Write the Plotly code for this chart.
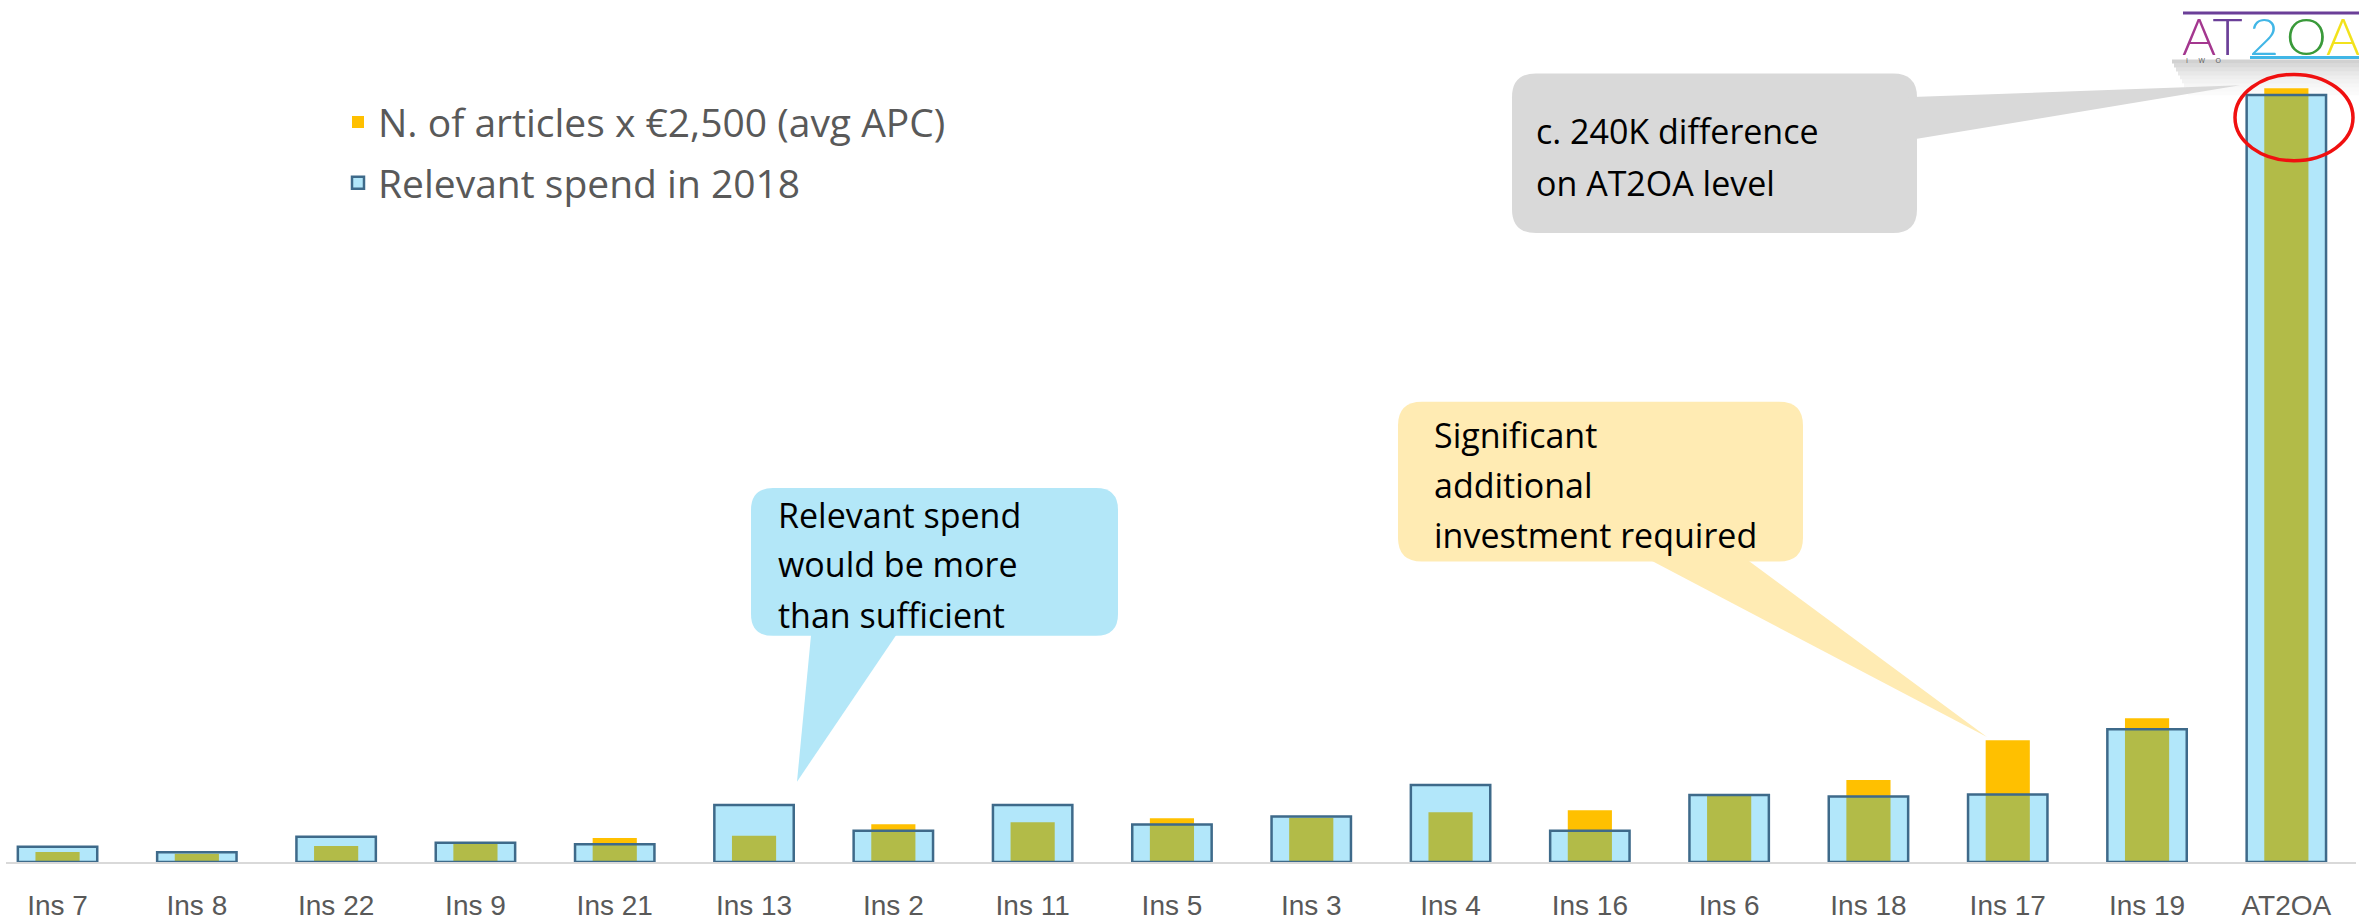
import plotly.graph_objects as go

# Institutions, left to right
categories = ["Ins 7", "Ins 8", "Ins 22", "Ins 9", "Ins 21", "Ins 13", "Ins 2", "Ins 11",
              "Ins 5", "Ins 3", "Ins 4", "Ins 16", "Ins 6", "Ins 18", "Ins 17", "Ins 19", "AT2OA"]

# Number of articles x EUR 2,500 (average APC), in EUR
apc_cost = [360000, 300000, 577500, 660000, 865000, 947500, 1367500, 1440000,
            1585000, 1595000, 1800000, 1872500, 2400000, 2962500, 4402500, 5195000, 27960000]

# Relevant spend in 2018, in EUR
relevant_spend = [551000, 349000, 911000, 695000, 637000, 2063000, 1127000, 2063000,
                  1357000, 1645000, 2783000, 1127000, 2423000, 2365000, 2437000, 4799000, 27720000]

legend_names = ["N. of articles x €2,500 (avg APC)", "Relevant spend in 2018"]

# canvas geometry (pixels)
FIG_W, FIG_H = 2359, 921
M_L, M_R, M_T, M_B = 6, 3, 0, 52
PW = FIG_W - M_L - M_R
PH = FIG_H - M_T - M_B


def to_paper(px, py):
    return (px - M_L) / PW, (M_T + PH - py) / PH


def path_from(points_cmds):
    out = []
    for cmd, pts in points_cmds:
        coords = []
        for (px, py) in pts:
            xp, yp = to_paper(px, py)
            coords.append(f"{xp:.6f},{yp:.6f}")
        out.append(cmd + " ".join(coords))
    return " ".join(out) + " Z"


def rounded_rect(x0, y0, x1, y1, r):
    return path_from([
        ("M", [(x0 + r, y0)]), ("L", [(x1 - r, y0)]), ("Q", [(x1, y0), (x1, y0 + r)]),
        ("L", [(x1, y1 - r)]), ("Q", [(x1, y1), (x1 - r, y1)]),
        ("L", [(x0 + r, y1)]), ("Q", [(x0, y1), (x0, y1 - r)]),
        ("L", [(x0, y0 + r)]), ("Q", [(x0, y0), (x0 + r, y0)]),
    ])


def triangle(p1, p2, p3):
    return path_from([("M", [p1]), ("L", [p2]), ("L", [p3])])


fig = go.Figure()

fig.add_trace(go.Bar(
    x=categories, y=apc_cost, name=legend_names[0], legendgroup="a",
    width=0.317, marker=dict(color="#FFC000", line=dict(width=0)),
))
fig.add_trace(go.Bar(
    x=categories, y=relevant_spend, name=legend_names[1], legendgroup="b",
    width=0.57, marker=dict(color="rgba(0,176,240,0.30)",
                            line=dict(color="#3E6A8A", width=2.5)),
))

shapes = []
annotations = []

# soft shadow under the logo
shadow_steps = [0.40, 0.33, 0.26, 0.20, 0.15, 0.11, 0.08, 0.05, 0.03]
for i, op in enumerate(shadow_steps):
    ya, yb = 60 + i * 4, 64 + i * 4
    xa, _ = to_paper(2172 + i * 2, 0)
    _, ypa = to_paper(0, ya)
    _, ypb = to_paper(0, yb)
    shapes.append(dict(type="rect", xref="paper", yref="paper", x0=xa, x1=1.01,
                       y0=ypb, y1=ypa, fillcolor="#8C8C8C", opacity=op,
                       line=dict(width=0), layer="below"))

# callout: grey
GREY = "#D9D9D9"
shapes.append(dict(type="path", xref="paper", yref="paper",
                   path=rounded_rect(1512, 74, 1917, 235, 24),
                   fillcolor=GREY, line=dict(width=0)))
shapes.append(dict(type="path", xref="paper", yref="paper",
                   path=triangle((1905, 98), (2240, 86), (1905, 142)),
                   fillcolor=GREY, line=dict(width=0)))

# callout: blue
BLUE = "#B3E7F8"
shapes.append(dict(type="path", xref="paper", yref="paper",
                   path=rounded_rect(751, 492, 1118, 641, 22),
                   fillcolor=BLUE, line=dict(width=0)))
shapes.append(dict(type="path", xref="paper", yref="paper",
                   path=triangle((812, 630), (797, 788), (903, 630)),
                   fillcolor=BLUE, line=dict(width=0)))

# callout: yellow
YEL = "#FFEBB3"
shapes.append(dict(type="path", xref="paper", yref="paper",
                   path=rounded_rect(1398, 405, 1803, 566, 24),
                   fillcolor=YEL, line=dict(width=0)))
shapes.append(dict(type="path", xref="paper", yref="paper",
                   path=triangle((1634, 556), (1987, 743), (1736, 556)),
                   fillcolor=YEL, line=dict(width=0)))

# red ring around the AT2OA bar top
ex0, ey1 = to_paper(2235, 75)
ex1, ey0 = to_paper(2353, 162)
shapes.append(dict(type="circle", xref="paper", yref="paper", x0=ex0, x1=ex1, y0=ey0, y1=ey1,
                   line=dict(color="#F01010", width=3.5), fillcolor="rgba(0,0,0,0)"))

# logo rules
lx0, ly = to_paper(2183, 13)
shapes.append(dict(type="line", xref="paper", yref="paper", x0=lx0, x1=1.01, y0=ly, y1=ly,
                   line=dict(color="#6B3F98", width=3)))
lx0, ly = to_paper(2250, 58)
shapes.append(dict(type="line", xref="paper", yref="paper", x0=lx0, x1=1.01, y0=ly, y1=ly,
                   line=dict(color="#41B6E6", width=3)))

FONT = "'Open Sans', Lato, sans-serif"


def text_at(px, py, text, size, color, xanchor="left", family=FONT, weight=None):
    xp, yp = to_paper(px, py)
    font = dict(family=family, size=size, color=color)
    if weight is not None:
        font["weight"] = weight
    annotations.append(dict(x=xp, y=yp, xref="paper", yref="paper", text=text,
                            showarrow=False, xanchor=xanchor, yanchor="middle",
                            font=font))


for (px, py, t) in [(1534, 132, "c. 240K difference"), (1534, 184, "on AT2OA level")]:
    text_at(px, py, t, 34, "#000000")
for (px, py, t) in [(776, 519, "Relevant spend"), (776, 569, "would be more"),
                    (776, 620, "than sufficient")]:
    text_at(px, py, t, 34, "#000000")
for (px, py, t) in [(1432, 439, "Significant"), (1432, 489, "additional"),
                    (1432, 539, "investment required")]:
    text_at(px, py, t, 34, "#000000")

# logo wordmark
logo_letters = [("A", "#A4378F"), ("T", "#6B3F98"), ("\u20092", "#41B6E6"),
                ("\u2009O", "#3A9A3A"), ("A", "#F2E21C")]
logo_text = "".join(f"<span style='color:{c}'>{t}</span>" for t, c in logo_letters)
text_at(2180, 35, logo_text, 52, "#6B3F98", xanchor="left", family="Lato, sans-serif", weight=300)
text_at(2184, 61, "I\u2003\u2002W\u2003\u2002O", 7, "#555555", xanchor="left")

lgx, lgy = to_paper(338, 91)

fig.update_layout(
    width=FIG_W, height=FIG_H,
    margin=dict(l=M_L, r=M_R, t=M_T, b=M_B),
    paper_bgcolor="white", plot_bgcolor="white",
    barmode="overlay",
    showlegend=True,
    legend=dict(x=lgx, y=lgy, xanchor="left", yanchor="top", xref="paper", yref="paper",
                bgcolor="rgba(0,0,0,0)", tracegroupgap=7,
                font=dict(family=FONT, size=39, color="#595959")),
    xaxis=dict(type="category", range=[-0.37, 16.5], showgrid=False, zeroline=False,
               showline=True, linecolor="#D9D9D9", linewidth=2, ticks="",
               ticklabelstandoff=17,
               tickfont=dict(family="'Liberation Sans', Arial, sans-serif",
                             size=28, color="#595959")),
    yaxis=dict(range=[0, 31150000], visible=False, showgrid=False, zeroline=False),
    shapes=shapes,
    annotations=annotations,
)

fig.write_html("out.html")
